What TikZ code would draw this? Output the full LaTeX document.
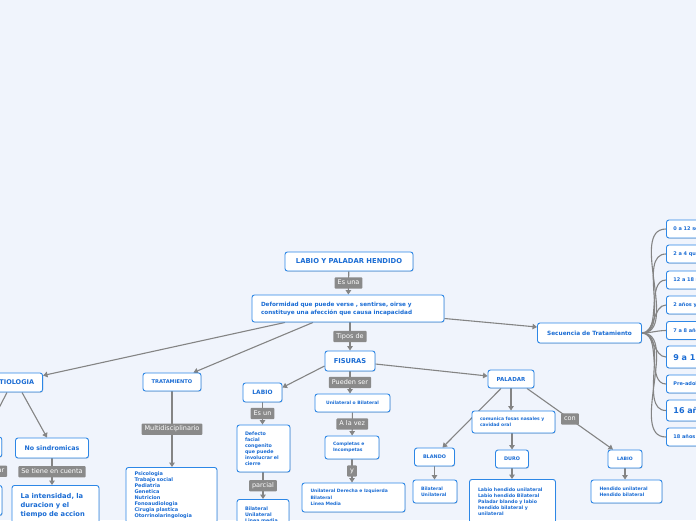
\documentclass[tikz,border=0pt]{standalone}
\usepackage{fontspec}
\setmainfont{DejaVu Sans}
\usetikzlibrary{arrows.meta, shadows, backgrounds}
\definecolor{bgcol}{RGB}{240,244,252}
\definecolor{boxblue}{RGB}{45,135,230}
\definecolor{txtblue}{RGB}{26,108,212}
\definecolor{labgrey}{RGB}{138,138,138}
\definecolor{lngrey}{RGB}{132,132,132}
\newcommand{\bsz}[2]{\bfseries\fontsize{#1}{#2}\selectfont}

\tikzset{
  box/.style={draw=boxblue, fill=white, line width=0.9pt, rounded corners=2.5pt, text=txtblue,
    align=center, inner xsep=8.5pt, inner ysep=2pt,
    drop shadow={shadow xshift=0.6pt, shadow yshift=-0.8pt, opacity=0.25}},
  lbox/.style={box, align=left},
  lab/.style={fill=labgrey, text=white, rounded corners=1pt, inner xsep=3pt, inner ysep=2.6pt,
    text height=4.8pt, text depth=1.4pt, font=\fontsize{6.5}{7}\selectfont},
  conn/.style={draw=lngrey, line width=1.1pt, -{Triangle[width=5.5pt,length=4.5pt]}},
  curve/.style={draw=lngrey, line width=1.1pt},
}

\begin{document}
\begin{tikzpicture}[x=1pt, y=-1pt]
  \useasboundingbox (0,0) rectangle (696,520);

  % centre
  \node[box, minimum width=128pt, minimum height=19pt, font=\bsz{6.8}{8}] (titulo) at (349,261.5) {LABIO Y PALADAR HENDIDO};
  \node[lbox, text width=174pt, minimum height=27pt, inner xsep=9pt, font=\bsz{5.7}{8}] (deform) at (348,308.5) {Deformidad que puede verse , sentirse, oirse y\\constituye una afección que causa incapacidad};
  \node[box, minimum width=50pt, minimum height=20pt, font=\bsz{6.7}{8}] (fis) at (350,361) {FISURAS};
  \node[box, minimum width=75pt, minimum height=18pt, font=\bsz{4.5}{6}] (unibi) at (352.5,403) {Unilateral o Bilateral};
  \node[lbox, text width=38pt, minimum height=23pt, inner xsep=8pt, font=\bsz{4.5}{6.2}] (comp) at (352,447.5) {Completas e\\Incompetas};
  \node[lbox, text width=86pt, minimum height=29pt, font=\bsz{4.5}{6.2}] (udi) at (353.5,497.5) {Unilateral Derecha e Izquierda\\Bilateral\\Linea Media};

  % labio
  \node[box, minimum width=39pt, minimum height=19pt, font=\bsz{5.9}{7}] (labioa) at (262.5,392.5) {LABIO};
  \node[lbox, text width=37pt, minimum height=47pt, inner xsep=8pt, font=\bsz{4.8}{6}] (defecto) at (263.5,448.5) {Defecto\\facial\\congenito\\que puede\\involucrar el\\cierre};
  \node[lbox, anchor=north, text width=36pt, minimum height=30pt, inner xsep=8pt, font=\bsz{4.8}{6}] (bul) at (263,499) {Bilateral\\Unilateral\\Linea media};

  % paladar
  \node[box, minimum width=46pt, minimum height=18pt, font=\bsz{5.5}{7}] (pal) at (511,379) {PALADAR};
  \node[lbox, text width=67pt, minimum height=22pt, inner xsep=8pt, font=\bsz{4.5}{6}] (com) at (513.5,422) {comunica fosas nasales y\\cavidad oral};
  \node[box, minimum width=39pt, minimum height=18pt, font=\bsz{4.9}{6}] (blando) at (434.5,457) {BLANDO};
  \node[box, minimum width=32pt, minimum height=18pt, font=\bsz{4.9}{6}] (duro) at (512,459) {DURO};
  \node[box, minimum width=34pt, minimum height=18pt, font=\bsz{4.6}{6}] (labiob) at (625,459) {LABIO};
  \node[lbox, text width=28pt, minimum height=23pt, inner xsep=8pt, font=\bsz{4.6}{6}] (blist) at (435,491.5) {Bilateral\\Unilateral};
  \node[lbox, anchor=north, text width=69pt, minimum height=44pt, font=\bsz{4.7}{6}] (dlist) at (512.5,479) {Labio hendido unilateral\\Labio hendido Bilateral\\Paladar blando y labio\\hendido bilateral y\\unilateral};
  \node[lbox, text width=54pt, minimum height=23pt, font=\bsz{4.6}{6}] (llist) at (626.5,491.5) {Hendido unilateral\\Hendido bilateral};

  % secuencia
  \node[box, minimum width=104pt, minimum height=20pt, font=\bsz{5.8}{7}] (sec) at (589.5,333) {Secuencia de Tratamiento};
  \node[lbox, anchor=west, text width=80pt, minimum height=18pt, inner xsep=7pt, font=\bsz{5}{6}] (s1) at (666,229) {0 a 12 semanas};
  \node[lbox, anchor=west, text width=80pt, minimum height=18pt, inner xsep=7pt, font=\bsz{5}{6}] (s2) at (666,254) {2 a 4 quincenas};
  \node[lbox, anchor=west, text width=80pt, minimum height=18pt, inner xsep=7pt, font=\bsz{5}{6}] (s3) at (666,280) {12 a 18 meses};
  \node[lbox, anchor=west, text width=80pt, minimum height=18pt, inner xsep=7pt, font=\bsz{5}{6}] (s4) at (666,305) {2 años y medio};
  \node[lbox, anchor=west, text width=80pt, minimum height=18pt, inner xsep=7pt, font=\bsz{5}{6}] (s5) at (666,330.5) {7 a 8 años};
  \node[lbox, anchor=west, text width=80pt, minimum height=22pt, inner xsep=7pt, font=\bsz{8}{9}] (s6) at (666,357) {9 a 11 años};
  \node[lbox, anchor=west, text width=80pt, minimum height=18pt, inner xsep=7pt, font=\bsz{5}{6}] (s7) at (666,384) {Pre-adolescencia};
  \node[lbox, anchor=west, text width=80pt, minimum height=21pt, inner xsep=7pt, font=\bsz{8}{9}] (s8) at (666,410.5) {16 años};
  \node[lbox, anchor=west, text width=80pt, minimum height=18pt, inner xsep=7pt, font=\bsz{5}{6}] (s9) at (666,437) {18 años};

  % tratamiento
  \node[box, minimum width=58pt, minimum height=18pt, font=\bsz{5.1}{6}] (trat) at (172,382) {TRATAMIENTO};
  \node[lbox, anchor=north, text width=74pt, minimum height=56pt, font=\bsz{5}{6}] (tlist) at (171.5,467) {Psicologia\\Trabajo social\\Pediatria\\Genetica\\Nutricion\\Fonoaudiologia\\Cirugia plastica\\Otorrinolaringologia};

  % etiologia
  \node[box, anchor=east, minimum height=19pt, font=\bsz{6.5}{8}] (etio) at (43,382.5) {ETIOLOGIA};
  \node[box, minimum width=73pt, minimum height=20pt, font=\bsz{6.3}{8}] (nosind) at (52,448) {No sindromicas};
  \node[lbox, anchor=north, text width=70pt, minimum height=40pt, font=\bsz{6.7}{8.7}] (lint) at (55.5,485) {La intensidad, la\\duracion y el\\tiempo de accion};
  \node[box, minimum width=59pt, minimum height=20pt, font=\bsz{6.3}{8}] (sind) at (-28.5,447) {Sindromicas};
  \node[lbox, anchor=north, text width=44pt, minimum height=30pt, font=\bsz{5}{6}] (sindbox) at (-28.5,485) {Malformaciones\\asociadas};

  \begin{scope}[on background layer]
    \fill[bgcol] (0,0) rectangle (696,520);
    \draw[conn] (titulo) -- node[lab] {Es una} (deform);
    \draw[conn] (deform.south -| fis) -- node[lab] {Tipos de} (fis);
    \draw[conn] (fis.south) -- node[lab] {Pueden ser} (fis.south |- unibi.north);
    \draw[conn] (unibi) -- node[lab] {A la vez} (comp);
    \draw[conn] (comp) -- node[lab] {y} (comp.south |- udi.north);
    \draw[conn] ([yshift=-5pt]fis.west) -- ([yshift=5pt]labioa.east);
    \draw[conn] (labioa) -- node[lab] {Es un} (labioa.south |- defecto.north);
    \draw[conn] (defecto.south -| bul) -- node[lab] {parcial} (bul);
    \draw[conn] ([yshift=-3pt]fis.east) -- ([yshift=3pt]pal.west);
    \draw[conn, line width=2pt] (pal.south) -- (pal.south |- com.north);
    \draw[conn] ([xshift=-10pt]pal.south) -- ([xshift=8pt]blando.north);
    \draw[conn] (com.south -| duro) -- (duro);
    \draw[conn] ([xshift=16pt]pal.south) -- node[lab] {con} ([xshift=-12pt]labiob.north);
    \draw[conn] (blando) -- (blando.south |- blist.north);
    \draw[conn] (duro) -- (duro.south |- dlist.north);
    \draw[conn] (labiob) -- (labiob.south |- llist.north);
    \draw[conn] ([yshift=-10pt]deform.east) -- ([yshift=6pt]sec.west);
    \foreach \s in {s1,s2,s3,s4,s5,s6,s7,s8,s9}
      \draw[curve] (sec.east) to[out=0, in=180, looseness=0.9] (\s.west);
    \draw[conn] ([xshift=-35pt]deform.south) -- ([xshift=-8pt]trat.north east);
    \draw[conn] (trat) -- node[lab] {Multidisciplinario} (trat.south |- tlist.north);
    \draw[conn] ([xshift=-63pt]deform.south) -- ([yshift=7pt]etio.east);
    \draw[conn] ([xshift=-21pt]etio.south east) -- ([xshift=-5pt]nosind.north);
    \draw[conn] (nosind) -- node[lab] {Se tiene en cuenta} (nosind.south |- lint.north);
    \draw[conn] ([xshift=-36pt]etio.south east) -- ([xshift=-18pt]sind.north east);
    \draw[conn] (sind) -- node[lab] {Se pueden observar} (sindbox);
  \end{scope}
\end{tikzpicture}
\end{document}
